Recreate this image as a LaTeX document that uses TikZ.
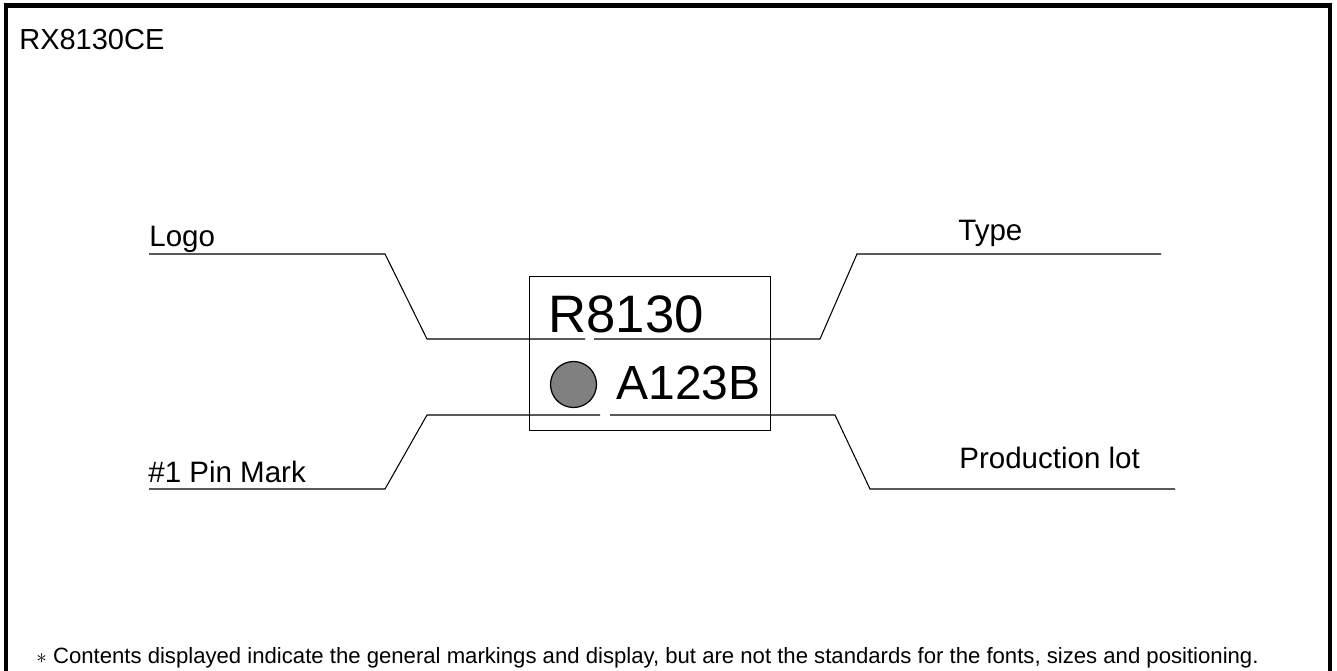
\documentclass[tikz,border=0pt]{standalone}
\usepackage{fontspec}
\setmainfont{Liberation Sans}
\begin{document}
\begin{tikzpicture}[x=0.02cm,y=-0.02cm,
  lbl/.style={inner sep=0pt,anchor=base west,font=\fontsize{16.8pt}{20pt}\selectfont},
  leader/.style={line width=0.6pt,line join=miter},
  chip/.style={draw,line width=0.8pt},
  frame/.style={line width=2.3pt}]
\useasboundingbox (0,0) rectangle (1337,671);
% outer frame (open at the bottom)
\draw[frame] (6,680) -- (6,5.5) -- (1330,5.5) -- (1330,680);
% title
\node[lbl,font=\fontsize{16.5pt}{20pt}\selectfont] (title) at (19,50) {RX8130CE};
% labels
\node[lbl] (logo) at (149,247) {Logo};
\node[lbl] (pin) at (148,482) {\#1 Pin Mark};
\node[lbl] (type) at (958,241) {Type};
\node[lbl] (lot) at (959,468) {Production lot};
% chip body
\node[chip,minimum width=241*0.02cm,minimum height=154*0.02cm,inner sep=0pt,anchor=north west] (body) at (529,276) {};
\node[inner sep=0pt,anchor=base west,font=\fontsize{30pt}{34pt}\selectfont] (type mark) at (548,333) {R8130};
\node[inner sep=0pt,anchor=base west,font=\fontsize{27.3pt}{32pt}\selectfont] (lot mark) at (616,400) {A123B};
\node[circle,draw,line width=0.7pt,fill={rgb,255:red,128;green,128;blue,128},minimum size=46*0.02cm,inner sep=0pt] (pin mark) at (573.5,384.5) {};
% leader coordinates
\coordinate (l1) at (149,254); \coordinate (l2) at (385,254); \coordinate (l3) at (427,339);
\coordinate (g1) at (585,339); \coordinate (g2) at (594,339);
\coordinate (t3) at (820,339); \coordinate (t2) at (857,254); \coordinate (t1) at (1161,254);
\coordinate (p1) at (149,489); \coordinate (p2) at (385,489); \coordinate (p3) at (427,415);
\coordinate (h1) at (600,415); \coordinate (h2) at (610,415);
\coordinate (q3) at (835,415); \coordinate (q2) at (870,489); \coordinate (q1) at (1175,489);
% leaders
\draw[leader] (l1) -- (l2) -- (l3) -- (g1);
\draw[leader] (g2) -- (t3) -- (t2) -- (t1);
\draw[leader] (p1) -- (p2) -- (p3) -- (h1);
\draw[leader] (h2) -- (q3) -- (q2) -- (q1);
% footnote
\node[inner sep=0pt,anchor=base west,font=\fontsize{12.6pt}{15pt}\selectfont] (note) at (36,663) {$\ast$ Contents displayed indicate the general markings and display, but are not the standards for the fonts, sizes and positioning.};
\end{tikzpicture}
\end{document}
